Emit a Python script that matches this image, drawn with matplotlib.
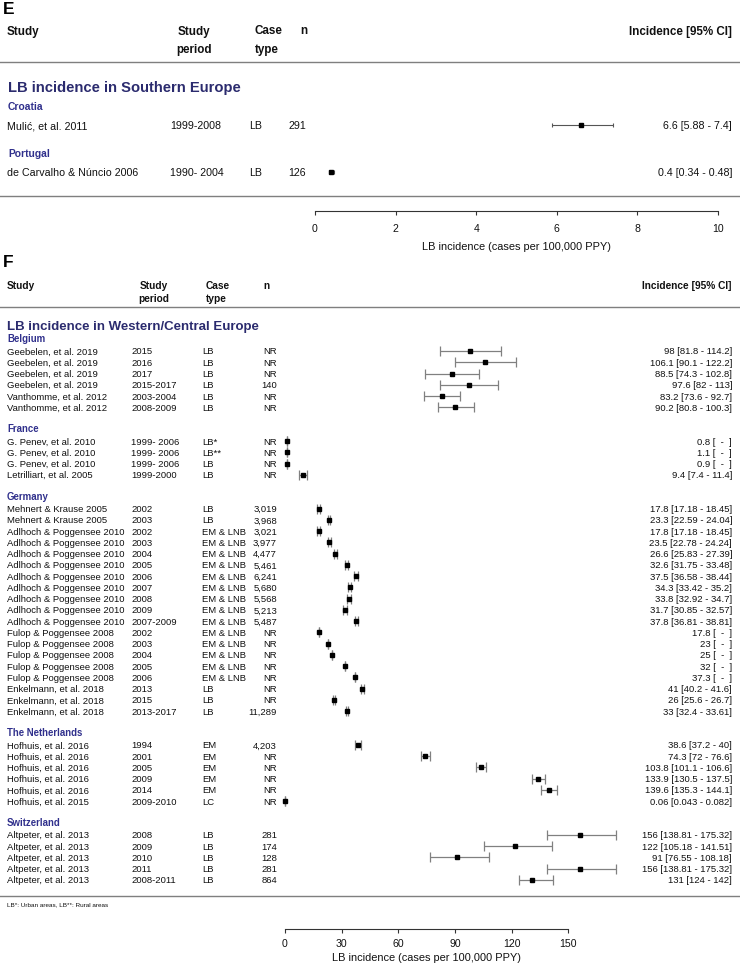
import matplotlib
matplotlib.use("Agg")
import matplotlib.pyplot as plt
from matplotlib.lines import Line2D
import matplotlib.transforms as mtransforms
import numpy as np

plt.rcParams['font.family'] = ['Liberation Sans', 'DejaVu Sans']

W, H = 740, 964

# ---------------- Panel E data ----------------
e_title = "LB incidence in Southern Europe"
e_countries = ["Croatia", "Portugal"]
e_studies = ["Mulić, et al. 2011", "de Carvalho & Núncio 2006"]
e_periods = ["1999-2008", "1990- 2004"]
e_cases = ["LB", "LB"]
e_n = ["291", "126"]
e_est = [6.6, 0.4]
e_lo = [5.88, 0.34]
e_hi = [7.4, 0.48]
e_ticks = [0, 2, 4, 6, 8, 10]

# ---------------- Panel F data ----------------
f_title = "LB incidence in Western/Central Europe"
f_countries = ["Belgium", "France", "Germany", "The Netherlands", "Switzerland"]
f_counts = [6, 4, 19, 6, 5]
f_studies = (
    ["Geebelen, et al. 2019"] * 4 + ["Vanthomme, et al. 2012"] * 2 +
    ["G. Penev, et al. 2010"] * 3 + ["Letrilliart, et al. 2005"] +
    ["Mehnert & Krause 2005"] * 2 + ["Adlhoch & Poggensee 2010"] * 9 +
    ["Fulop & Poggensee 2008"] * 5 + ["Enkelmann, et al. 2018"] * 3 +
    ["Hofhuis, et al. 2016"] * 5 + ["Hofhuis, et al. 2015"] +
    ["Altpeter, et al. 2013"] * 5
)
f_periods = [
    "2015", "2016", "2017", "2015-2017", "2003-2004", "2008-2009",
    "1999- 2006", "1999- 2006", "1999- 2006", "1999-2000",
    "2002", "2003", "2002", "2003", "2004", "2005", "2006", "2007", "2008", "2009",
    "2007-2009", "2002", "2003", "2004", "2005", "2006", "2013", "2015", "2013-2017",
    "1994", "2001", "2005", "2009", "2014", "2009-2010",
    "2008", "2009", "2010", "2011", "2008-2011",
]
f_cases = (
    ["LB"] * 6 + ["LB*", "LB**", "LB", "LB"] + ["LB"] * 2 + ["EM & LNB"] * 14 +
    ["LB"] * 3 + ["EM"] * 5 + ["LC"] + ["LB"] * 5
)
f_n = [
    "NR", "NR", "NR", "140", "NR", "NR",
    "NR", "NR", "NR", "NR",
    "3,019", "3,968", "3,021", "3,977", "4,477", "5,461", "6,241", "5,680", "5,568", "5,213",
    "5,487", "NR", "NR", "NR", "NR", "NR", "NR", "NR", "11,289",
    "4,203", "NR", "NR", "NR", "NR", "NR",
    "281", "174", "128", "281", "864",
]
f_est = [
    98, 106.1, 88.5, 97.6, 83.2, 90.2,
    0.8, 1.1, 0.9, 9.4,
    17.8, 23.3, 17.8, 23.5, 26.6, 32.6, 37.5, 34.3, 33.8, 31.7,
    37.8, 17.8, 23, 25, 32, 37.3, 41, 26, 33,
    38.6, 74.3, 103.8, 133.9, 139.6, 0.06,
    156, 122, 91, 156, 131,
]
nan = float("nan")
f_lo = [
    81.8, 90.1, 74.3, 82, 73.6, 80.8,
    nan, nan, nan, 7.4,
    17.18, 22.59, 17.18, 22.78, 25.83, 31.75, 36.58, 33.42, 32.92, 30.85,
    36.81, nan, nan, nan, nan, nan, 40.2, 25.6, 32.4,
    37.2, 72, 101.1, 130.5, 135.3, 0.043,
    138.81, 105.18, 76.55, 138.81, 124,
]
f_hi = [
    114.2, 122.2, 102.8, 113, 92.7, 100.3,
    nan, nan, nan, 11.4,
    18.45, 24.04, 18.45, 24.24, 27.39, 33.48, 38.44, 35.2, 34.7, 32.57,
    38.81, nan, nan, nan, nan, nan, 41.6, 26.7, 33.61,
    40, 76.6, 106.6, 137.5, 144.1, 0.082,
    175.32, 141.51, 108.18, 175.32, 142,
]
f_ticks = [0, 30, 60, 90, 120, 150]
f_footnote = "LB*: Urban areas, LB**: Rural areas"

xlabel_text = "LB incidence (cases per 100,000 PPY)"

TITLE_C = "#2b2b6e"
COUNTRY_C = "#30308c"
TEXT_C = "#111111"
RULE_C = "#7f7f7f"
VA = "center_baseline"


def fx(x):
    return x / W


def fy(y):
    return 1 - y / H


def ci_label(est, lo, hi):
    if np.isnan(lo):
        return f"{est:g} [  -  ]"
    return f"{est:g} [{lo:g} - {hi:g}]"


fig = plt.figure(figsize=(W / 100, H / 100), dpi=100)


def hline(y):
    fig.add_artist(Line2D([0, 739 / W], [fy(y), fy(y)], transform=fig.transFigure,
                          color=RULE_C, lw=1.0))


def style_axis(ax, ticks, labelsize, xls, pad, labelpad):
    ax.patch.set_visible(False)
    for s in ["left", "top", "right"]:
        ax.spines[s].set_visible(False)
    ax.spines["bottom"].set_color("#333333")
    ax.spines["bottom"].set_linewidth(0.8)
    ax.set_yticks([])
    ax.set_xticks(ticks)
    ax.set_xticklabels([f"{t:g}" for t in ticks])
    ax.tick_params(axis="x", direction="out", length=3, width=0.8, color="#333333",
                   labelcolor=TEXT_C, labelsize=labelsize, pad=pad)
    ax.set_xlabel(xlabel_text, fontsize=xls, color=TEXT_C, labelpad=labelpad)


def ci_bounds(est, lo, hi):
    est = np.asarray(est, float)
    lo = np.asarray(lo, float)
    hi = np.asarray(hi, float)
    lo2 = np.where(np.isnan(lo), est, lo)
    hi2 = np.where(np.isnan(hi), est, hi)
    return est, lo2, hi2


# ================= Panel E =================
axE = fig.add_axes([fx(315), fy(211), fx(718) - fx(315), fy(62) - fy(211)])
axE.set_xlim(0, 10)
axE.set_ylim(1.818, -1.332)
style_axis(axE, e_ticks, 7.6, 7.9, 6, 6)
trE = mtransforms.blended_transform_factory(fig.transFigure, axE.transData)

e_rows = np.arange(len(e_studies))
est, lo, hi = ci_bounds(e_est, e_lo, e_hi)
cont = axE.errorbar(est, e_rows, xerr=[est - lo, hi - est], fmt="s", ms=3.4,
                    mfc="black", mec="black", ecolor="#555555", elinewidth=0.8,
                    capsize=1.2, capthick=0.8, zorder=3)
for a in cont.get_children():
    a.set_clip_on(False)

fig.text(fx(3), fy(10), "E", fontsize=12.5, fontweight="bold", va="center", ha="left")
hdr = dict(fontsize=8.4, fontweight="bold", color=TEXT_C, va=VA)
fig.text(fx(7), fy(30), "Study", ha="left", **hdr)
fig.text(fx(194), fy(30), "Study", ha="center", **hdr)
fig.text(fx(194), fy(49), "period", ha="center", **hdr)
fig.text(fx(255), fy(30), "Case", ha="left", **hdr)
fig.text(fx(255), fy(49), "type", ha="left", **hdr)
fig.text(fx(307), fy(30), "n", ha="right", **hdr)
fig.text(fx(732), fy(30), "Incidence [95% CI]", ha="right", **hdr)
hline(62)
hline(195.5)

fig.text(fx(8), -0.82, e_title, transform=trE, fontsize=10.6, fontweight="bold",
         color=TITLE_C, va=VA, ha="left")
rowfs = 7.7
for i, r in enumerate(e_rows):
    fig.text(fx(8), r - 0.40, e_countries[i], transform=trE, fontsize=7.4,
             fontweight="bold", color=COUNTRY_C, va=VA, ha="left")
    fig.text(fx(7), r, e_studies[i], transform=trE, fontsize=rowfs, color=TEXT_C,
             va=VA, ha="left")
    fig.text(fx(170), r, e_periods[i], transform=trE, fontsize=rowfs, color=TEXT_C,
             va=VA, ha="left")
    fig.text(fx(249), r, e_cases[i], transform=trE, fontsize=rowfs, color=TEXT_C,
             va=VA, ha="left")
    fig.text(fx(306), r, e_n[i], transform=trE, fontsize=rowfs, color=TEXT_C,
             va=VA, ha="right")
    fig.text(fx(732), r, ci_label(e_est[i], e_lo[i], e_hi[i]), transform=trE,
             fontsize=rowfs, color=TEXT_C, va=VA, ha="right")

# ================= Panel F =================
step = 11.255
f_left, f_right = 285, 285 + 150 * 1.889
axF = fig.add_axes([fx(f_left), fy(929), fx(f_right) - fx(f_left), fy(307) - fy(929)])
axF.set_xlim(0, 150)
axF.set_ylim((929 - 351) / step, (307 - 351) / step)
style_axis(axF, f_ticks, 7.6, 7.9, 4, 3)
trF = mtransforms.blended_transform_factory(fig.transFigure, axF.transData)

rows = []
headers = []
cur = -1
for c, n in zip(f_countries, f_counts):
    headers.append(cur)
    rows.extend(range(cur + 1, cur + 1 + n))
    cur += n + 2
rows = np.array(rows, float)

est, lo, hi = ci_bounds(f_est, f_lo, f_hi)
cont = axF.errorbar(est, rows, xerr=[est - lo, hi - est], fmt="s", ms=3.2,
                    mfc="black", mec="black", ecolor="#808080", elinewidth=0.9,
                    capsize=3.3, capthick=0.9, zorder=3)
for a in cont.get_children():
    a.set_clip_on(False)

fig.text(fx(3), fy(263), "F", fontsize=12.5, fontweight="bold", va="center", ha="left")
hdr = dict(fontsize=7.3, fontweight="bold", color=TEXT_C, va=VA)
fig.text(fx(7), fy(285), "Study", ha="left", **hdr)
fig.text(fx(154), fy(285), "Study", ha="center", **hdr)
fig.text(fx(154), fy(298), "period", ha="center", **hdr)
fig.text(fx(206), fy(285), "Case", ha="left", **hdr)
fig.text(fx(206), fy(298), "type", ha="left", **hdr)
fig.text(fx(263), fy(285), "n", ha="left", **hdr)
fig.text(fx(732), fy(285), "Incidence [95% CI]", ha="right", **hdr)
hline(307)
hline(896)

fig.text(fx(7), -2.3, f_title, transform=trF, fontsize=9.5, fontweight="bold",
         color=TITLE_C, va=VA, ha="left")
for c, hy in zip(f_countries, headers):
    fig.text(fx(7), hy - 0.12, c, transform=trF, fontsize=6.9, fontweight="bold",
             color=COUNTRY_C, va=VA, ha="left")
rowfs = 6.8
for i, r in enumerate(rows):
    fig.text(fx(7), r, f_studies[i], transform=trF, fontsize=rowfs, color=TEXT_C,
             va=VA, ha="left")
    fig.text(fx(131), r, f_periods[i], transform=trF, fontsize=rowfs, color=TEXT_C,
             va=VA, ha="left")
    fig.text(fx(202), r, f_cases[i], transform=trF, fontsize=rowfs, color=TEXT_C,
             va=VA, ha="left")
    fig.text(fx(277), r, f_n[i], transform=trF, fontsize=rowfs, color=TEXT_C,
             va=VA, ha="right")
    fig.text(fx(732), r, ci_label(f_est[i], f_lo[i], f_hi[i]), transform=trF,
             fontsize=rowfs, color=TEXT_C, va=VA, ha="right")

fig.text(fx(7), fy(904), f_footnote, fontsize=4.6, color=TEXT_C, va=VA, ha="left")

fig.savefig("out.png", dpi=100)
